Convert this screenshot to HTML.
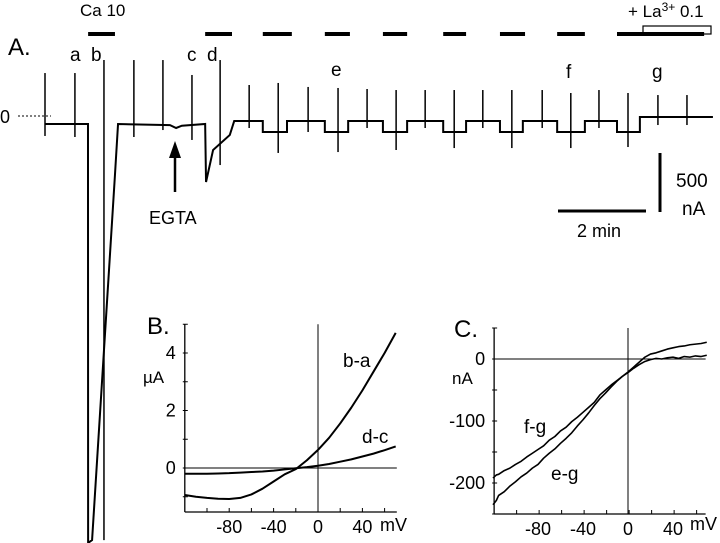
<!DOCTYPE html>
<html><head><meta charset="utf-8">
<style>
html,body{margin:0;padding:0;background:#fff;}
svg{display:block;font-family:"Liberation Sans",Arial,sans-serif;}
text{fill:#000;}
</style></head>
<body>
<svg id="fig" width="720" height="543" viewBox="0 0 720 543" xmlns="http://www.w3.org/2000/svg">
<g id="panelA">
  <text x="8" y="55" font-size="24">A.</text>
  <text x="80" y="16" font-size="17">Ca 10</text>
  <text x="628" y="17" font-size="17">+ La<tspan font-size="12" dy="-6">3+</tspan><tspan dy="6"> 0.1</tspan></text>
  <rect x="643" y="26" width="68" height="8" fill="none" stroke="#000" stroke-width="1.2"/>
  <text x="70" y="61" font-size="19">a</text>
  <text x="91" y="61" font-size="19">b</text>
  <text x="187" y="61" font-size="19">c</text>
  <text x="207" y="61" font-size="19">d</text>
  <text x="331" y="76" font-size="19">e</text>
  <text x="566" y="78" font-size="19">f</text>
  <text x="652" y="78" font-size="19">g</text>
  <text x="0" y="123" font-size="18">0</text>
  <line x1="18" y1="116" x2="51" y2="116" stroke="#000" stroke-dasharray="2,2"/>
  <line x1="175" y1="192" x2="175" y2="155" stroke="#000" stroke-width="2.5"/>
  <polygon points="175,141 169,158 181,158" fill="#000"/>
  <text x="149" y="224" font-size="18">EGTA</text>
  <line x1="660" y1="153" x2="660" y2="212" stroke="#000" stroke-width="3"/>
  <text x="676" y="187" font-size="19">500</text>
  <text x="682" y="215" font-size="19">nA</text>
  <line x1="558" y1="211" x2="646" y2="211" stroke="#000" stroke-width="3"/>
  <text x="577" y="237" font-size="18">2 min</text>
</g>
<g id="panelB">
  <text x="147" y="334" font-size="24">B.</text>
  <text x="143" y="383" font-size="17">µA</text>
  <text x="343" y="367" font-size="19">b-a</text>
  <text x="362" y="443" font-size="19">d-c</text>
  <text x="380" y="531" font-size="18">mV</text>
</g>
<g id="panelC">
  <text x="454" y="337" font-size="24">C.</text>
  <text x="452" y="384" font-size="17">nA</text>
  <text x="524" y="433" font-size="19">f-g</text>
  <text x="551" y="480" font-size="19">e-g</text>
  <text x="690" y="530" font-size="18">mV</text>
</g>
</svg>
<script>
// ---------- Panel A data ----------
var solutionBars = [[0.98,1.59],[3.64,4.25],[4.95,5.61],[6.36,6.93],[7.68,8.23],[9.05,9.57],[10.34,10.91],[11.64,12.27],[13.0,14.98]];
var traceT = [0,0.977,0.98,1.07,1.59,1.66,2.84,2.98,3.11,3.64,3.66,3.82,4.2,4.3];
var traceI = [0,0,-3675,-3650,-447,0,-10,-35,-15,0,-509,-228,-96,26];
var stepStart = [4.95,6.36,7.68,9.05,10.34,11.64,13.0];
var stepEnd = [5.5,6.89,8.23,9.57,10.86,12.27,13.52];
var stepLow = -70, stepHigh = 26, finalLevel = 61, traceEnd = 15.18;
var spikeT = [0,0.68,1.34,2.02,2.68,3.34,3.98,4.64,5.30,5.98,6.66,7.32,7.98,8.64,9.30,9.95,10.61,11.30,11.95,12.59,13.25,13.93,14.59];
var spikeUp = [447,447,561,561,561,430,561,342,360,325,316,307,298,298,298,298,298,298,272,298,272,254,254];
var spikeDown = [-105,-114,-3650,-114,-53,-140,-360,-35,-254,-70,-246,-35,-228,-35,-211,-35,-211,-35,-211,-35,-202,-9,-9];
// ---------- Panel B data ----------
var bV = [-120,-110,-100,-90,-80,-70,-60,-50,-40,-30,-20,-10,0,10,20,30,40,50,60,70];
var bBA = [-0.94,-1.0,-1.04,-1.07,-1.08,-1.04,-0.92,-0.72,-0.47,-0.22,-0.04,0.27,0.63,1.05,1.55,2.1,2.7,3.35,4.0,4.7];
var bDC = [-0.2,-0.2,-0.2,-0.19,-0.18,-0.16,-0.14,-0.12,-0.09,-0.05,-0.01,0.03,0.08,0.14,0.22,0.3,0.4,0.5,0.62,0.75];
var bYTicks = ["0","2","4"];
var bXTicks = ["-80","-40","0","40"];
// ---------- Panel C data ----------
var cV = [-120,-117,-115,-110,-105,-100,-95,-90,-85,-80,-75,-70,-65,-60,-55,-50,-45,-40,-35,-30,-25,-20,-15,-10,-5,0,5,10,15,20,25,30,35,40,45,50,55,60,65,70];
var cEG = [-235,-228,-220,-214,-205,-198,-190,-184,-176,-170,-160,-152,-145,-136,-128,-119,-108,-98,-87,-75,-64,-55,-45,-36,-28,-22,-15,-9,-4,-1,1,0,2,3,1,4,3,5,4,6];
var cFG = [-192,-187,-186,-180,-176,-170,-165,-158,-152,-146,-140,-131,-125,-116,-110,-101,-94,-86,-78,-70,-58,-50,-42,-35,-28,-21,-13,-5,3,8,10,13,16,18,20,21,23,24,25,27];
var cYTicks = ["0","-100","-200"];
var cXTicks = ["-80","-40","0","40"];

var NS="http://www.w3.org/2000/svg";
function mk(tag, attrs, parent){var e=document.createElementNS(NS,tag);for(var k in attrs)e.setAttribute(k,attrs[k]);parent.appendChild(e);return e;}
var gA=document.getElementById('panelA'), gB=document.getElementById('panelB'), gC=document.getElementById('panelC');

function tA(t){return 45+t*44;}
function iA(n){return Math.min(543,124-n*0.114);}
solutionBars.forEach(function(b){
  var l=mk('line',{x1:tA(b[0]),x2:tA(b[1]),y1:34,y2:34,stroke:'#000','stroke-width':4},gA);
  
  
});
var pts=[];
for(var i=0;i<traceT.length;i++)pts.push(tA(traceT[i])+','+iA(traceI[i]));
for(var s=0;s<stepStart.length;s++){
  pts.push(tA(stepStart[s])+','+iA(stepHigh));pts.push(tA(stepStart[s])+','+iA(stepLow));
  pts.push(tA(stepEnd[s])+','+iA(stepLow));
  var hi=(s==stepStart.length-1)?finalLevel:stepHigh;
  pts.push(tA(stepEnd[s])+','+iA(hi));
}
pts.push(tA(traceEnd)+','+iA(finalLevel));
var tr=mk('polyline',{points:pts.join(' '),fill:'none',stroke:'#000','stroke-width':2},gA);


for(var k=0;k<spikeT.length;k++){
  var sp=mk('line',{x1:tA(spikeT[k]),x2:tA(spikeT[k]),y1:iA(spikeUp[k]),y2:iA(spikeDown[k]),stroke:'#000','stroke-width':1.5},gA);
  
  
}

function drawAxes(g,xf,yf,xmin,xmax,ymin,ymax,xstep,ystep,xlabs,ylabs,pre){
  var ax=mk('line',{x1:xf(xmin),x2:xf(xmin),y1:yf(ymax),y2:yf(ymin),stroke:'#000','stroke-width':1.3},g);
  
  
  var bx=mk('line',{x1:xf(xmin),x2:xf(xmax),y1:yf(ymin),y2:yf(ymin),stroke:'#000','stroke-width':1.3},g);
  
  
  var zh=mk('line',{x1:xf(xmin),x2:xf(xmax),y1:yf(0),y2:yf(0),stroke:'#000','stroke-width':1},g);
  
  
  var zv=mk('line',{x1:xf(0),x2:xf(0),y1:yf(ymax),y2:yf(ymin),stroke:'#000','stroke-width':1},g);
  
  
  for(var v=xmin+xstep;v<xmax;v+=xstep){
    var t=mk('line',{x1:xf(v),x2:xf(v),y1:yf(ymin),y2:yf(ymin)-4,stroke:'#000'},g);
    
    
  }
  for(var y=Math.ceil(ymin/ystep)*ystep;y<=ymax;y+=ystep){
    var t2=mk('line',{x1:xf(xmin)-2,x2:xf(xmin)+3,y1:yf(y),y2:yf(y),stroke:'#000'},g);
    
    
  }
  xlabs.forEach(function(s){
    var tx=mk('text',{x:xf(+s),y:yf(ymin)+21,'font-size':18,'text-anchor':'middle'},g);tx.textContent=s;
    
    
  });
  ylabs.forEach(function(s){
    var ty=mk('text',{x:xf(xmin)-9,y:yf(+s)+6,'font-size':18,'text-anchor':'end'},g);ty.textContent=s;
    
    
  });
}
function curve(g,xs,ys,xf,yf,name,w){
  var p=[];for(var i=0;i<xs.length;i++)p.push(xf(xs[i])+','+yf(ys[i]));
  var c=mk('polyline',{points:p.join(' '),fill:'none',stroke:'#000','stroke-width':w,'stroke-linejoin':'round'},g);
  
  
}

function xB(v){return 318+v*1.11;}
function yB(i){return 468-i*28.75;}
drawAxes(gB,xB,yB,-120,71,-1.53,5,20,1,bXTicks,bYTicks,'b');
curve(gB,bV,bBA,xB,yB,'curve-b-a',2);
curve(gB,bV,bDC,xB,yB,'curve-d-c',2);

function xC(v){return 628+v*1.125;}
function yC(n){return 359-n*0.62;}
drawAxes(gC,xC,yC,-119,69,-250,50,20,50,cXTicks,cYTicks,'c');
curve(gC,cV,cEG,xC,yC,'curve-e-g',1.6);
curve(gC,cV,cFG,xC,yC,'curve-f-g',1.6);
</script>
</body></html>
